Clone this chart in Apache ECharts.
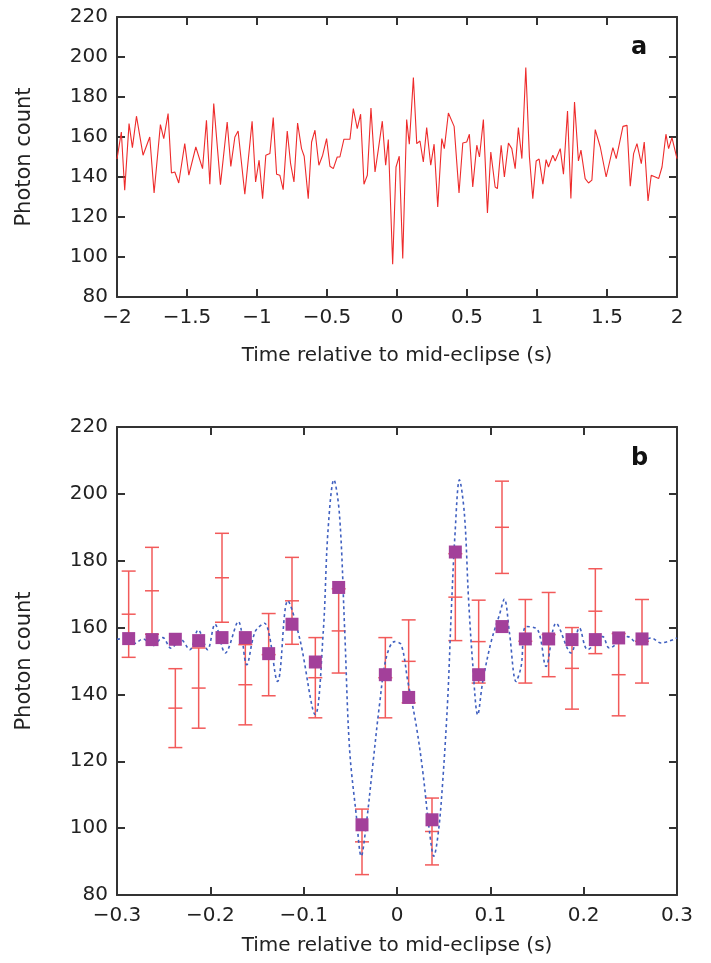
<!DOCTYPE html>
<html>
<head>
<meta charset="utf-8">
<script src="https://cdn.jsdelivr.net/npm/echarts@6/dist/echarts.min.js"></script>
<style>
html,body{margin:0;padding:0;background:#fff;}
#c{width:711px;height:963px;}
</style>
</head>
<body>
<div id="c"></div>
<script>
// ---- Panel a: light curve (time in s, photon count) ----
var timesA = [-2.000,-1.969,-1.945,-1.914,-1.890,-1.861,-1.814,-1.766,-1.735,-1.690,-1.666,-1.635,-1.611,-1.587,-1.559,-1.516,-1.487,-1.437,-1.389,-1.361,-1.337,-1.309,-1.261,-1.213,-1.187,-1.158,-1.135,-1.087,-1.035,-1.010,
-0.985,-0.960,-0.937,-0.908,-0.884,-0.860,-0.837,-0.813,-0.784,-0.760,-0.736,-0.710,-0.682,-0.663,-0.634,-0.610,-0.586,-0.558,-0.531,-0.503,-0.479,-0.455,-0.427,-0.408,-0.379,-0.336,-0.312,-0.284,-0.260,-0.236,-0.212,-0.186,-0.157,-0.134,-0.105,-0.081,-0.062,-0.031,-0.007,
0.016,0.041,0.069,0.088,0.117,0.141,0.164,0.188,0.212,0.241,0.265,0.291,0.320,0.338,0.367,0.408,0.443,0.470,0.498,0.517,0.541,0.570,0.589,0.617,0.646,0.670,0.701,0.717,0.744,0.767,0.796,0.820,0.844,0.867,0.892,0.920,0.946,0.970,0.994,
1.015,1.042,1.065,1.082,1.113,1.130,1.166,1.189,1.218,1.242,1.268,1.296,1.314,1.344,1.368,1.392,1.416,1.452,1.494,1.542,1.566,1.614,1.643,1.666,1.690,1.714,1.745,1.766,1.793,1.816,1.845,1.869,1.893,1.921,1.940,1.964,2.000];
var countsA = [149,162.5,133.4,166.7,154.7,170.4,150.9,160,132,166.2,159.2,171.7,142,142.5,137,156.7,140.9,155,144.2,168.4,136.4,176.7,136.2,167.5,145.3,160,163,131.4,167.9,137.5,
148.4,129.2,150.9,151.7,169.7,141.4,140.9,133.7,163,146.7,137.5,167,154.2,150.4,129.2,157.5,163.4,145.9,150.9,159.2,145.4,144.2,150,150,158.9,158.9,174.2,164.2,171.4,136.4,140.9,174.5,142.5,153.4,167.9,145.9,158.7,96.4,145,
150.4,99.2,168.7,156.4,189.7,156.7,158,147.5,164.7,145.9,156.4,125,159.2,154.2,172,165.3,132,157,157.5,161.4,135,155.9,150,168.7,122,152.5,135,134.2,155.9,140,157,154.2,144.2,164.7,149.2,194.7,150,129.2,148,
149,136.4,148.7,145,150.9,148,154.2,141.4,173,129.2,177.5,148,153.4,139.2,137,138.4,163.7,155,140,154.7,149.2,165.3,165.8,135.4,151.7,156.7,146.7,157.5,128,140.9,140,139.2,145,161.4,154.2,159.7,149.2];

// ---- Panel b: binned data with error bars ----
var binTimes = [-0.2875,-0.2625,-0.2375,-0.2125,-0.1875,-0.1625,-0.1375,-0.1125,-0.0875,-0.0625,-0.0375,-0.0125,0.0125,0.0375,0.0625,0.0875,0.1125,0.1375,0.1625,0.1875,0.2125,0.2375,0.2625];
var errCenter = [164,171,135.9,141.9,174.9,142.9,151.9,168,145,159,95.9,145,149.9,99,169.1,155.8,190,155.9,157.9,147.8,164.9,145.9,155.9];
var errHalf = [12.9,13,11.8,12,13.3,12,12.3,13,12,12.6,9.8,12,12.4,10,13,12.4,13.8,12.5,12.6,12.2,12.7,12.3,12.5];
var modelBins = [156.7,156.4,156.5,156.1,157,157,152.2,161,149.7,172,101,145.9,139.1,102.5,182.6,145.9,160.3,156.6,156.6,156.4,156.4,156.9,156.6];

// ---- Panel b: model curve (dashed) ----
var curveT = [-0.300,-0.290,-0.282,-0.272,-0.262,-0.251,-0.242,-0.232,-0.222,-0.213,-0.203,-0.195,-0.184,-0.170,-0.161,-0.152,-0.142,-0.128,-0.117,-0.104,-0.0876,-0.079,-0.074,-0.0676,-0.0616,-0.056,-0.0509,-0.0437,-0.0383,-0.033,-0.0259,-0.0187,-0.0116,-0.0027,0.0045,0.0116,0.0205,0.0276,0.0348,0.0394,0.0444,0.049,0.0544,0.058,0.0623,0.0669,0.0723,0.0766,0.0812,0.0865,0.0919,0.1009,0.1097,0.115,0.1205,0.1276,0.133,0.1383,0.1508,0.1597,0.1705,0.1865,0.1954,0.2043,0.2203,0.2275,0.2471,0.2578,0.2722,0.2829,0.300];
var curveV = [156.5,156.8,155.2,156.6,154.5,157,153.8,156.5,153.4,159.3,153.4,161,152.4,161.8,148.9,158.8,161.3,143.9,168,156.4,134,158.8,188.7,204.2,193.7,158.8,124,104,91.6,101,119,137,150.9,155.8,154.9,143.9,130.9,117,99,91.6,99,114,138.9,163.8,188.7,204.2,193.7,168.8,148.9,133.9,143.9,155.8,163.8,168.5,158.4,143.9,148.4,160.3,159.3,148.4,161.3,152.4,159.9,153.4,157.3,153.9,157.3,155.4,156.9,155.4,156.9];

var FONT = 'DejaVu Sans';
var AX = '#333';
function fmt(v){ return String(+v.toFixed(4)).replace('-', '\u2212'); }

function xAxes(grid, min, max, interval, name, gap){
  return [
    {gridIndex:grid, type:'value', position:'bottom', min:min, max:max, interval:interval,
     name:name, nameLocation:'middle', nameGap:gap,
     nameTextStyle:{fontFamily:FONT, fontSize:20, color:'#222'},
     axisLine:{onZero:false, lineStyle:{color:AX, width:2}},
     axisTick:{inside:true, length:8, lineStyle:{color:AX, width:2}},
     axisLabel:{fontFamily:FONT, fontSize:20, color:'#222', margin:11, formatter:fmt},
     splitLine:{show:false}},
    {gridIndex:grid, type:'value', position:'top', min:min, max:max, interval:interval,
     axisLine:{onZero:false, lineStyle:{color:AX, width:2}},
     axisTick:{inside:true, length:8, lineStyle:{color:AX, width:2}},
     axisLabel:{show:false}, splitLine:{show:false}}
  ];
}
function yAxes(grid){
  return [
    {gridIndex:grid, type:'value', position:'left', min:80, max:220, interval:20,
     name:'Photon count', nameLocation:'middle', nameGap:82, nameRotate:90,
     nameTextStyle:{fontFamily:FONT, fontSize:21, color:'#222'},
     axisLine:{show:true, onZero:false, lineStyle:{color:AX, width:2}},
     axisTick:{show:true, inside:true, length:8, lineStyle:{color:AX, width:2}},
     axisLabel:{fontFamily:FONT, fontSize:20, color:'#222', margin:9},
     splitLine:{show:false}},
    {gridIndex:grid, type:'value', position:'right', min:80, max:220, interval:20,
     axisLine:{show:true, onZero:false, lineStyle:{color:AX, width:2}},
     axisTick:{show:true, inside:true, length:8, lineStyle:{color:AX, width:2}},
     axisLabel:{show:false}, splitLine:{show:false}}
  ];
}

var errData = binTimes.map(function(t,i){ return [t, errCenter[i], errHalf[i]]; });
var ERR = '#f25a5a';

var option = {
  animation:false,
  backgroundColor:'#fff',
  grid:[
    {left:117, top:17, width:560, height:280},
    {left:117, top:427, width:560, height:468}
  ],
  xAxis: xAxes(0,-2,2,0.5,'Time relative to mid-eclipse (s)',49).concat(
         xAxes(1,-0.3,0.3,0.1,'Time relative to mid-eclipse (s)',41)),
  yAxis: yAxes(0).concat(yAxes(1)),
  graphic:[
    {type:'text', left:631, top:36, style:{text:'a', fontFamily:FONT, fontWeight:'bold', fontSize:24, fill:'#111'}},
    {type:'text', left:631, top:447, style:{text:'b', fontFamily:FONT, fontWeight:'bold', fontSize:24, fill:'#111'}}
  ],
  series:[
    {type:'line', xAxisIndex:0, yAxisIndex:0, showSymbol:false, z:3,
     data: timesA.map(function(t,i){ return [t, countsA[i]]; }),
     lineStyle:{color:'#ee2b2b', width:1.1}},
    {type:'custom', xAxisIndex:2, yAxisIndex:2, z:2,
     data: errData,
     encode:{x:0, y:1},
     renderItem:function(params, api){
       var x = api.value(0), c = api.value(1), e = api.value(2);
       var top = api.coord([x, c+e]), mid = api.coord([x, c]), bot = api.coord([x, c-e]);
       var w = 7, st = {stroke:ERR, lineWidth:1.5};
       return {type:'group', children:[
         {type:'line', shape:{x1:top[0], y1:top[1], x2:bot[0], y2:bot[1]}, style:st},
         {type:'line', shape:{x1:top[0]-w, y1:top[1], x2:top[0]+w, y2:top[1]}, style:st},
         {type:'line', shape:{x1:mid[0]-w, y1:mid[1], x2:mid[0]+w, y2:mid[1]}, style:st},
         {type:'line', shape:{x1:bot[0]-w, y1:bot[1], x2:bot[0]+w, y2:bot[1]}, style:st}
       ]};
     }},
    {type:'line', xAxisIndex:2, yAxisIndex:2, showSymbol:false, smooth:0.35, z:3,
     data: curveT.map(function(t,i){ return [t, curveV[i]]; }),
     lineStyle:{color:'#4060c0', width:1.6, type:[3,3]}},
    {type:'scatter', xAxisIndex:2, yAxisIndex:2, z:4, symbol:'rect', symbolSize:13,
     data: binTimes.map(function(t,i){ return [t, modelBins[i]]; }),
     itemStyle:{color:'#a3409a', opacity:1}}
  ]
};
var chart = echarts.init(document.getElementById('c'), null, {renderer:'canvas'});
chart.setOption(option);
</script>
</body>
</html>
